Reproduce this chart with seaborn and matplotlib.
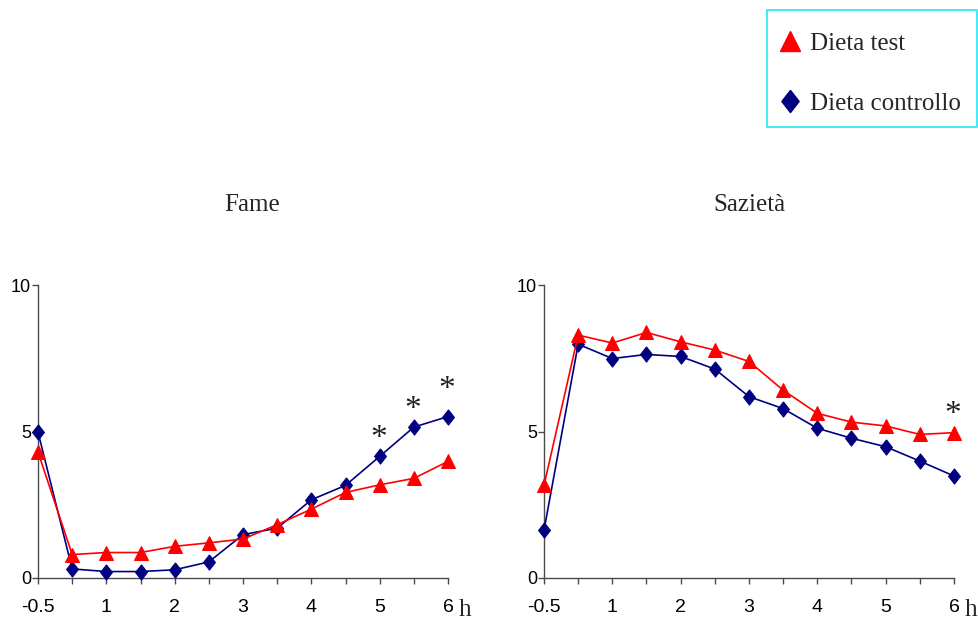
import matplotlib
matplotlib.use("Agg")
import matplotlib.pyplot as plt
from matplotlib.lines import Line2D
from matplotlib.patches import Rectangle
import seaborn as sns
import pandas as pd

# ---- data ----
time_labels = ["-0.5", "0.5", "1", "1.5", "2", "2.5", "3", "3.5", "4", "4.5", "5", "5.5", "6"]
tick_text = ["-0.5", "", "1", "", "2", "", "3", "", "4", "", "5", "", "6"]

fame_test = [4.3, 0.8, 0.87, 0.87, 1.08, 1.2, 1.33, 1.82, 2.35, 2.92, 3.18, 3.4, 3.98]
fame_ctrl = [4.98, 0.31, 0.22, 0.22, 0.28, 0.55, 1.48, 1.7, 2.67, 3.16, 4.15, 5.15, 5.51]
saz_test = [3.16, 8.29, 8.02, 8.38, 8.06, 7.78, 7.39, 6.41, 5.62, 5.32, 5.19, 4.9, 4.96]
saz_ctrl = [1.63, 7.98, 7.49, 7.63, 7.56, 7.13, 6.19, 5.78, 5.11, 4.77, 4.48, 3.99, 3.48]

# significance marks: (time index, y value of asterisk)
fame_stars_idx = [10, 11, 12]
fame_stars_y = [4.98, 5.97, 6.65]
saz_stars_idx = [12]
saz_stars_y = [5.82]

series_names = ["Dieta test", "Dieta controllo"]
titles = ["Fame", "Sazietà"]

RED = "#FF0000"
NAVY = "#000080"
AXC = "#4A4A4A"
diamond = [(0, 1), (0.78, 0), (0, -1), (-0.78, 0), (0, 1)]
SANS = ["Liberation Sans", "DejaVu Sans"]
SERIF = ["Liberation Serif", "DejaVu Serif"]

sns.set_theme(style="white")
plt.rcParams["font.family"] = SANS

fig = plt.figure(figsize=(9.79, 6.2), dpi=100)
ax1 = fig.add_axes([38 / 979, 1 - 578 / 620, 410 / 979, 293 / 620])
ax2 = fig.add_axes([544 / 979, 1 - 578 / 620, 410 / 979, 293 / 620])

idx = list(range(len(time_labels)))

panels = [
    (ax1, fame_test, fame_ctrl, fame_stars_idx, fame_stars_y),
    (ax2, saz_test, saz_ctrl, saz_stars_idx, saz_stars_y),
]

for ax, test, ctrl, s_idx, s_y in panels:
    df = pd.DataFrame({"t": idx * 2,
                       "v": test + ctrl,
                       "dieta": [series_names[0]] * len(idx) + [series_names[1]] * len(idx)})
    sns.lineplot(data=df[df.dieta == series_names[1]], x="t", y="v", ax=ax,
                 color=NAVY, marker=diamond, markersize=11, markeredgecolor=NAVY,
                 linewidth=1.2, clip_on=False, zorder=3)
    sns.lineplot(data=df[df.dieta == series_names[0]], x="t", y="v", ax=ax,
                 color=RED, marker="^", markersize=10, markeredgecolor=RED,
                 linewidth=1.2, clip_on=False, zorder=4)
    for i, y in zip(s_idx, s_y):
        ax.annotate("*", xy=(i, y), xytext=(-1, -5), textcoords="offset points",
                    ha="center", va="center", fontsize=24,
                    family=SERIF, color="#222222")
    ax.set_xlim(0, len(idx) - 1)
    ax.set_ylim(0, 10)
    ax.set_xticks(idx)
    ax.set_xticklabels(tick_text)
    ax.set_yticks([0, 5, 10])
    ax.set_xlabel("")
    ax.set_ylabel("")
    for sp in ["top", "right"]:
        ax.spines[sp].set_visible(False)
    for sp in ["left", "bottom"]:
        ax.spines[sp].set_color(AXC)
        ax.spines[sp].set_linewidth(1.0)
    ax.tick_params(axis="x", direction="out", length=4, width=1, color=AXC,
                   pad=11, labelsize=14, labelcolor="black", bottom=True)
    ax.tick_params(axis="y", direction="out", length=4, width=1, color=AXC,
                   pad=1, labelsize=13, labelcolor="black", left=True)
    ax.annotate("h", xy=(1, 0), xycoords="axes fraction", xytext=(12, -23),
                textcoords="offset points", ha="center", va="center",
                fontsize=18, family=SERIF)
    ax.set_facecolor("none")

fig.text(252 / 979, 1 - 205 / 620, titles[0], ha="center", va="center",
         fontsize=18, family=SERIF)
fig.text(749 / 979, 1 - 205 / 620, titles[1], ha="center", va="center",
         fontsize=18, family=SERIF)

# legend box
fig.patches.append(Rectangle((767 / 979, 1 - 127 / 620), 210 / 979, 117 / 620,
                             transform=fig.transFigure, fill=False,
                             edgecolor="#22E8F5", linewidth=1.2))
handles = [
    Line2D([], [], linestyle="none", marker="^", color=RED, markersize=14),
    Line2D([], [], linestyle="none", marker=diamond, color=NAVY, markersize=16),
]
leg = fig.legend(handles, series_names, loc="upper left",
                 bbox_to_anchor=(780 / 979, 1 - 32 / 620),
                 frameon=False,
                 prop={"family": SERIF, "size": 18},
                 handlelength=0.8, handletextpad=0.4, labelspacing=1.5,
                 borderpad=0, borderaxespad=0)

fig.savefig("out.png", dpi=100, facecolor="white")
